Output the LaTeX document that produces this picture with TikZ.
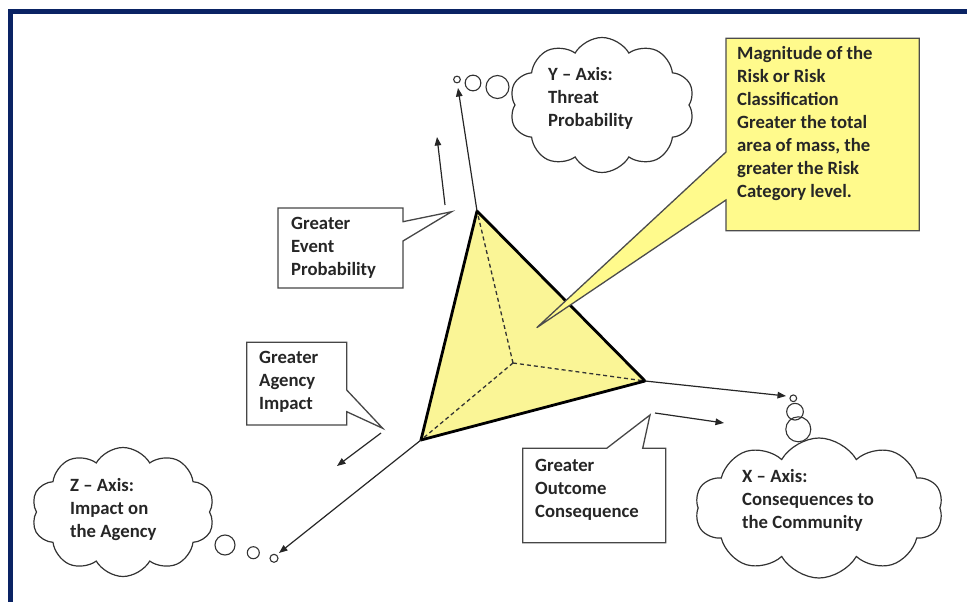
\documentclass[tikz,border=0pt]{standalone}
\usepackage{fontspec}
\setmainfont{Carlito}
\usetikzlibrary{arrows.meta,shapes.symbols,calc}
\definecolor{framenavy}{RGB}{10,35,100}
\definecolor{massyellow}{RGB}{250,245,150}
\definecolor{noteyellow}{RGB}{255,250,140}
\definecolor{inkgray}{RGB}{70,70,70}

\begin{document}
\begin{tikzpicture}[x=1pt,y=-1pt,
  font=\fontsize{18.7}{23}\selectfont\bfseries,
  axisarrow/.style={-{Triangle[length=8.5pt,width=6.5pt]},line width=1.2pt,black!85},
  callout/.style={draw=inkgray,line width=1.3pt,fill=white,line join=miter},
  note/.style={inner sep=0pt,align=left,anchor=west,text=black!85},
  thought/.style={cloud,draw=black!80,line width=1.2pt,cloud puffs=10,
    cloud puff arc=120,cloud ignores aspect,inner sep=0pt},
  bubble/.style={circle,draw=black!80,line width=1.1pt,inner sep=0pt}]
\useasboundingbox (0,0) rectangle (967,602);
% frame
\draw[framenavy,line width=4.5pt] (10.7,700) -- (10.7,11.7) -- (1000,11.7);

% risk mass
\coordinate (apex) at (477,211);
\coordinate (left) at (421,440);
\coordinate (right) at (645,381);
\coordinate (core) at (513,363);
\fill[massyellow] (apex) -- (right) -- (left) -- cycle;
\draw[black!80,line width=1.3pt,dash pattern=on 4pt off 3pt]
  (core) -- (apex) (core) -- (right) (core) -- (left);
\draw[black,line width=2.8pt,line join=round] (apex) -- (right) -- (left) -- cycle;

% axes
\coordinate (ytip) at (458,88);
\coordinate (xtip) at (786,396);
\coordinate (ztip) at (279,553);
\draw[axisarrow] (apex) -- (ytip);
\draw[axisarrow] (right) -- (xtip);
\draw[axisarrow] (left) -- (ztip);

% direction hints
\coordinate (evfoot) at (445,205);
\coordinate (evtip) at (437,137);
\coordinate (agfoot) at (381,433);
\coordinate (agtip) at (337,466);
\coordinate (ocfoot) at (655,413);
\coordinate (octip) at (724,423);
\draw[axisarrow] (evfoot) -- (evtip);
\draw[axisarrow] (agfoot) -- (agtip);
\draw[axisarrow] (ocfoot) -- (octip);

% callouts
\draw[callout] (278,208) -- (403,208) -- (403,221.7) -- (451.7,211.7)
  -- (403,241) -- (403,288) -- (278,288) -- cycle;
\node[note] (eventtxt) at (291,248) {Greater\\Event\\Probability};

\draw[callout] (246.7,342.3) -- (346.7,342.3) -- (346.7,390) -- (382.7,428.3)
  -- (346.7,411.7) -- (346.7,425) -- (246.7,425) -- cycle;
\node[note] (agencytxt) at (259,382) {Greater\\Agency\\Impact};

\draw[callout] (522.7,448.3) -- (606.7,448.3) -- (650,415) -- (642.7,448.3)
  -- (665.7,448.3) -- (665.7,542.7) -- (522.7,542.7) -- cycle;
\node[note] (outcometxt) at (535,490) {Greater\\Outcome\\Consequence};

\draw[callout,draw=black!70,fill=noteyellow] (726,38.3) -- (919.3,38.3)
  -- (919.3,230.7) -- (726,230.7) -- (726,200) -- (536.7,327.7)
  -- (726,152) -- cycle;
\node[note] (magtxt) at (737,124) {Magnitude of the\\Risk or Risk\\Classification\\
  Greater the total\\area of mass, the\\greater the Risk\\Category level.};

% thought clouds
\node[thought,minimum width=185,minimum height=135] (ycloud) at (602,105) {};
\node[note] (ytxt) at (548,98) {Y – Axis:\\Threat\\Probability};
\node[bubble,minimum size=6.7] (yb1) at (457,79.5) {};
\node[bubble,minimum size=15.7] (yb2) at (473,83) {};
\node[bubble,minimum size=23] (yb3) at (497.5,87) {};

\node[thought,minimum width=248,minimum height=140] (xcloud) at (819,508) {};
\node[note] (xtxt) at (742,500) {X – Axis:\\Consequences to\\the Community};
\node[bubble,minimum size=6.7] (xb1) at (793.3,398.3) {};
\node[bubble,minimum size=16.7] (xb2) at (795,411.7) {};
\node[bubble,minimum size=25] (xb3) at (798.3,429.3) {};

\node[thought,minimum width=183,minimum height=129] (zcloud) at (123,512) {};
\node[note] (ztxt) at (70,510) {Z – Axis:\\Impact on\\the Agency};
\node[bubble,minimum size=20] (zb1) at (225,545) {};
\node[bubble,minimum size=12] (zb2) at (253.3,552.7) {};
\node[bubble,minimum size=8] (zb3) at (274,558.3) {};
\end{tikzpicture}
\end{document}
